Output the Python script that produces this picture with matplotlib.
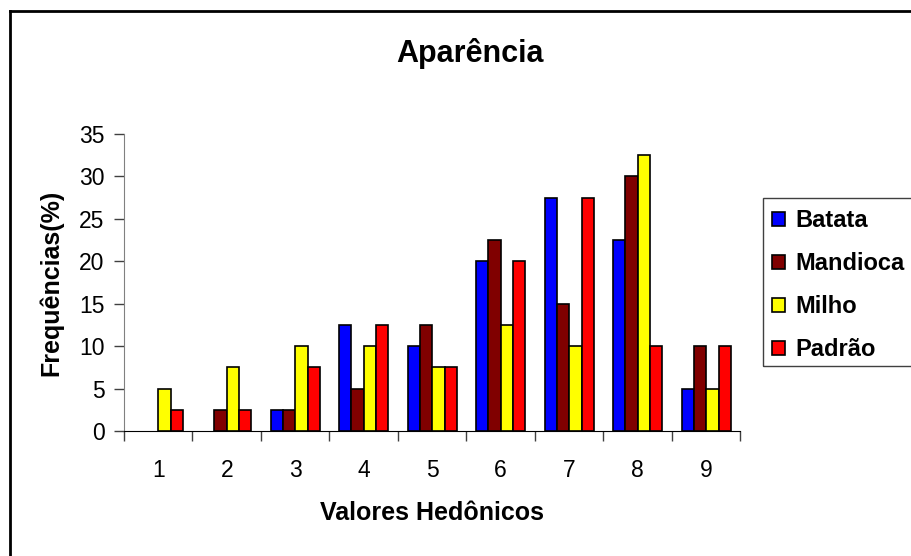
import numpy as np
import matplotlib.pyplot as plt
from matplotlib.patches import Rectangle, Patch
from matplotlib.lines import Line2D

plt.rcParams['font.family'] = ['Liberation Sans', 'DejaVu Sans']

# ------------------------------------------------------------
# Dados
# ------------------------------------------------------------
valores = [1, 2, 3, 4, 5, 6, 7, 8, 9]
batata = [0, 0, 2.5, 12.5, 10, 20, 27.5, 22.5, 5]
mandioca = [0, 2.5, 2.5, 5, 12.5, 22.5, 15, 30, 10]
milho = [5, 7.5, 10, 10, 7.5, 12.5, 10, 32.5, 5]
padrao = [2.5, 2.5, 7.5, 12.5, 7.5, 20, 27.5, 10, 10]

series = ['Batata', 'Mandioca', 'Milho', 'Padrão']
cores = ['#0000FF', '#800000', '#FFFF00', '#FF0000']

W, H = 912, 556
fig = plt.figure(figsize=(W / 100, H / 100), dpi=100)
ax = fig.add_axes([124 / W, 1 - 431 / H, (740.5 - 124) / W, (431 - 134) / H])

x = np.arange(len(valores))
largura = 0.18
dados = [batata, mandioca, milho, padrao]
for i, (nome, vals, cor) in enumerate(zip(series, dados, cores)):
    barras = ax.bar(x + (i - 1.5) * largura, vals, largura, color=cor,
                    edgecolor='black', linewidth=1.2)
    # barras com valor zero não aparecem no original
    for b, v in zip(barras, vals):
        if v == 0:
            b.set_visible(False)

ax.set_xlim(-0.5, len(valores) - 0.5)
ax.set_ylim(0, 35)
ax.set_yticks(np.arange(0, 36, 5))
ax.set_xticks(x)
ax.set_xticklabels([str(v) for v in valores])
ax.set_xticks(np.arange(-0.5, len(valores) + 0.5, 1), minor=True)
ax.tick_params(axis='x', which='major', length=0, pad=20, labelsize=16.5)
ax.tick_params(axis='x', which='minor', length=7, width=1, color='#404040', direction='out')
ax.tick_params(axis='y', length=7, width=1, color='#404040', direction='out',
               labelsize=16.5, pad=7)

for s in ['top', 'right']:
    ax.spines[s].set_visible(False)
ax.spines['left'].set_color('#808080')
ax.spines['bottom'].set_color('black')

ax.set_xlabel('Valores Hedônicos', fontsize=18, fontweight='bold')
ax.set_ylabel('Frequências(%)', fontsize=18, fontweight='bold')
ax.xaxis.set_label_coords(0.5, -(513 - 431) / 297, transform=ax.transAxes)
ax.yaxis.set_label_coords((51 - 124) / 616.5, 0.5, transform=ax.transAxes)
ax.xaxis.label.set_va('center')
ax.yaxis.label.set_va('center')

fig.text(469.5 / W, 1 - 62 / H, 'Aparência', fontsize=22,
         fontweight='bold', ha='center', va='baseline')

# moldura externa
fig.add_artist(Line2D([10 / W, 10 / W], [0, 1 - 11 / H], color='black', lw=2))
fig.add_artist(Line2D([10 / W, 1], [1 - 11 / H, 1 - 11 / H], color='black', lw=2))

# caixa da legenda
fig.add_artist(Rectangle((763 / W, 1 - 366 / H), (W - 763 + 20) / W, (366 - 198) / H,
                         transform=fig.transFigure, fill=False, edgecolor='#404040', lw=1))
handles = [Patch(facecolor=c, edgecolor='black', linewidth=1.2) for c in cores]
leg = fig.legend(handles, series, loc='upper left', bbox_to_anchor=(772 / W, 1 - 209 / H),
                 frameon=False, prop={'weight': 'bold', 'size': 17},
                 handlelength=0.55, handleheight=0.55, handletextpad=0.45,
                 labelspacing=0.85, borderaxespad=0, borderpad=0)

fig.savefig('out.png', dpi=100)
